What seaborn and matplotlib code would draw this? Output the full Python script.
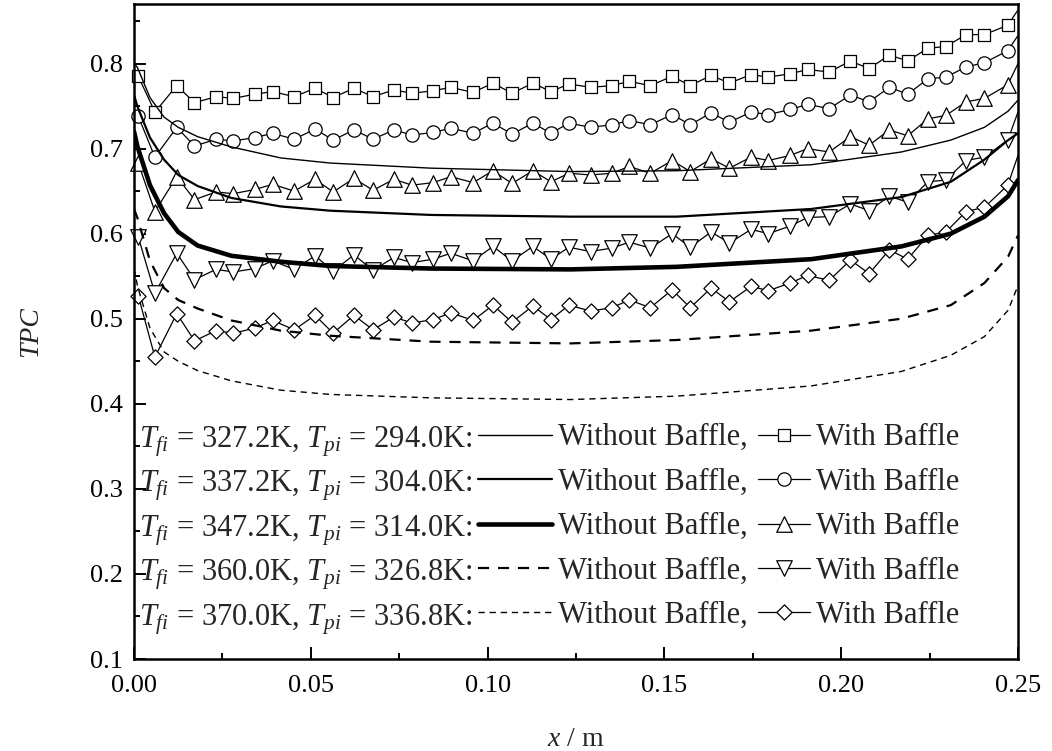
import matplotlib
matplotlib.use("Agg")
import matplotlib.pyplot as plt
import numpy as np
import pandas as pd
import seaborn as sns
from matplotlib.ticker import MultipleLocator, FormatStrFormatter

# ---------------- data ----------------
# marker positions along the channel (m), shared by all "with baffle" series
x_mark = [0.0012, 0.0059, 0.0121, 0.0171, 0.0232, 0.0281, 0.0342, 0.0392, 0.0453,
          0.0512, 0.0563, 0.0622, 0.0676, 0.0735, 0.0786, 0.0846, 0.0896, 0.0959,
          0.1015, 0.1069, 0.1128, 0.1179, 0.1230, 0.1291, 0.1351, 0.1401, 0.1460,
          0.1522, 0.1573, 0.1632, 0.1684, 0.1745, 0.1794, 0.1856, 0.1905, 0.1966,
          0.2026, 0.2079, 0.2136, 0.2188, 0.2245, 0.2296, 0.2353, 0.2405, 0.2471]
x_end = 0.25

with_327 = [0.785, 0.743, 0.774, 0.754, 0.761, 0.759, 0.764, 0.767, 0.761, 0.771,
            0.760, 0.771, 0.761, 0.769, 0.765, 0.768, 0.772, 0.766, 0.777, 0.765,
            0.777, 0.767, 0.776, 0.772, 0.774, 0.779, 0.774, 0.785, 0.774, 0.786,
            0.777, 0.787, 0.784, 0.788, 0.793, 0.790, 0.803, 0.794, 0.810, 0.803,
            0.818, 0.820, 0.834, 0.834, 0.845]
with_337 = [0.738, 0.690, 0.725, 0.703, 0.711, 0.709, 0.713, 0.718, 0.711, 0.723,
            0.710, 0.722, 0.711, 0.722, 0.716, 0.719, 0.724, 0.718, 0.730, 0.717,
            0.730, 0.718, 0.730, 0.725, 0.728, 0.733, 0.728, 0.740, 0.728, 0.742,
            0.731, 0.743, 0.740, 0.746, 0.752, 0.747, 0.763, 0.755, 0.772, 0.764,
            0.782, 0.784, 0.796, 0.801, 0.815]
with_347 = [0.683, 0.626, 0.667, 0.640, 0.649, 0.647, 0.652, 0.658, 0.650, 0.664,
            0.649, 0.665, 0.651, 0.664, 0.657, 0.660, 0.667, 0.660, 0.674, 0.659,
            0.674, 0.661, 0.671, 0.669, 0.671, 0.679, 0.671, 0.686, 0.673, 0.688,
            0.677, 0.690, 0.686, 0.692, 0.700, 0.696, 0.714, 0.704, 0.722, 0.715,
            0.735, 0.739, 0.755, 0.759, 0.775]
with_360 = [0.596, 0.530, 0.577, 0.546, 0.558, 0.555, 0.559, 0.568, 0.558, 0.574,
            0.556, 0.575, 0.557, 0.572, 0.566, 0.570, 0.577, 0.568, 0.585, 0.568,
            0.585, 0.570, 0.584, 0.579, 0.583, 0.590, 0.583, 0.600, 0.584, 0.602,
            0.589, 0.605, 0.600, 0.609, 0.619, 0.620, 0.635, 0.627, 0.644, 0.637,
            0.661, 0.663, 0.686, 0.690, 0.710]
with_370 = [0.527, 0.455, 0.506, 0.474, 0.486, 0.483, 0.489, 0.498, 0.487, 0.504,
            0.483, 0.504, 0.487, 0.502, 0.495, 0.499, 0.507, 0.498, 0.516, 0.496,
            0.515, 0.499, 0.516, 0.509, 0.513, 0.522, 0.513, 0.534, 0.513, 0.536,
            0.520, 0.538, 0.533, 0.542, 0.551, 0.545, 0.569, 0.553, 0.581, 0.570,
            0.598, 0.602, 0.626, 0.631, 0.657]
with_end = [0.863, 0.833, 0.800, 0.743, 0.692]   # line values at x = 0.25

# smooth "without baffle" profiles
x_curve = [0.0, 0.001, 0.0045, 0.0085, 0.0125, 0.018, 0.0275, 0.0415, 0.0555,
           0.084, 0.1235, 0.1535, 0.1915, 0.217, 0.231, 0.2405, 0.2472, 0.25]
without_327 = [0.801, 0.795, 0.760, 0.737, 0.725, 0.714, 0.702, 0.689, 0.683,
               0.677, 0.673, 0.674, 0.681, 0.696, 0.710, 0.725, 0.744, 0.757]
without_337 = [0.763, 0.749, 0.713, 0.687, 0.669, 0.656, 0.642, 0.632, 0.627,
               0.622, 0.620, 0.620, 0.629, 0.643, 0.661, 0.687, 0.710, 0.718]
without_347 = [0.720, 0.702, 0.657, 0.624, 0.602, 0.586, 0.574, 0.567, 0.562,
               0.559, 0.558, 0.561, 0.570, 0.585, 0.600, 0.620, 0.644, 0.663]
without_360 = [0.629, 0.618, 0.568, 0.536, 0.522, 0.512, 0.498, 0.486, 0.480,
               0.473, 0.471, 0.475, 0.486, 0.500, 0.516, 0.542, 0.573, 0.598]
without_370 = [0.559, 0.538, 0.489, 0.461, 0.450, 0.439, 0.427, 0.416, 0.411,
               0.407, 0.405, 0.409, 0.421, 0.438, 0.457, 0.479, 0.510, 0.539]

temp_labels = [r"$T_{fi}$ = 327.2K, $T_{pi}$ = 294.0K:",
               r"$T_{fi}$ = 337.2K, $T_{pi}$ = 304.0K:",
               r"$T_{fi}$ = 347.2K, $T_{pi}$ = 314.0K:",
               r"$T_{fi}$ = 360.0K, $T_{pi}$ = 326.8K:",
               r"$T_{fi}$ = 370.0K, $T_{pi}$ = 336.8K:"]
x_ticks = [0.00, 0.05, 0.10, 0.15, 0.20, 0.25]
y_ticks = [0.1, 0.2, 0.3, 0.4, 0.5, 0.6, 0.7, 0.8]

# ---------------- styling ----------------
sns.set_style("ticks")
plt.rcParams["font.family"] = ["Liberation Serif", "DejaVu Serif"]
plt.rcParams["mathtext.fontset"] = "custom"
plt.rcParams["mathtext.rm"] = "Liberation Serif"
plt.rcParams["mathtext.it"] = "Liberation Serif:italic"
plt.rcParams["axes.edgecolor"] = "black"
plt.rcParams["xtick.color"] = "black"
plt.rcParams["ytick.color"] = "black"

fig = plt.figure(figsize=(10.52, 7.51), dpi=100)
ax = fig.add_axes([0.1274, 0.1225, 0.8403, 0.8722])

with_series = [with_327, with_337, with_347, with_360, with_370]
without_series = [without_327, without_337, without_347, without_360, without_370]
markers = ["s", "o", "^", "v", "D"]
msizes = [80, 92, 125, 125, 60]
wo_styles = [dict(lw=1.0, ls="-"),
             dict(lw=1.6, ls="-"),
             dict(lw=3.3, ls="-"),
             dict(lw=1.6, ls=(0, (5, 4))),
             dict(lw=1.0, ls=(0, (4.5, 3.5)))]

with_handles = []
for vals, end, mk, ms in zip(with_series, with_end, markers, msizes):
    df = pd.DataFrame({"x": x_mark + [x_end], "y": vals + [end]})
    sns.lineplot(data=df, x="x", y="y", ax=ax, color="black", lw=0.9,
                 sort=False, estimator=None, zorder=2)
    line = ax.lines[-1]
    sns.scatterplot(x=x_mark, y=vals, ax=ax, marker=mk, s=ms, color="white",
                    edgecolor="black", linewidth=0.9, zorder=2.5, clip_on=False)
    sc = ax.collections[-1]
    with_handles.append((line, sc))

without_handles = []
for vals, st in zip(without_series, wo_styles):
    df = pd.DataFrame({"x": x_curve, "y": vals})
    sns.lineplot(data=df, x="x", y="y", ax=ax, color="black", lw=st["lw"],
                 linestyle=st["ls"], sort=False, estimator=None, zorder=3)
    without_handles.append(ax.lines[-1])

ax.set_xlim(0, 0.25)
ax.set_ylim(0.1, 0.87)
ax.set_xticks(x_ticks)
ax.set_yticks(y_ticks)
ax.xaxis.set_minor_locator(MultipleLocator(0.025))
ax.yaxis.set_minor_locator(MultipleLocator(0.05))
ax.xaxis.set_major_formatter(FormatStrFormatter("%.2f"))
ax.yaxis.set_major_formatter(FormatStrFormatter("%.1f"))
ax.tick_params(which="major", direction="in", length=8.6, width=1.4,
               labelsize=19, pad=8, top=False, right=False)
ax.tick_params(axis="x", which="major", pad=11.5)
ax.tick_params(which="minor", direction="in", length=4.3, width=1.4,
               top=False, right=False)
for sp in ax.spines.values():
    sp.set_linewidth(1.8)
    sp.set_visible(True)
    sp.set_zorder(4)

ax.set_xlabel(r"$x$ / m", fontsize=20)
ax.set_ylabel("TPC", fontsize=20, fontstyle="italic")
ax.xaxis.set_label_coords(0.5, -0.104)
ax.yaxis.set_label_coords(-0.103, 0.5)

# ---------------- legend ----------------
leg_kw = dict(loc="lower left", frameon=False, fontsize=22, labelspacing=0.507,
              handletextpad=0.2, borderpad=0, borderaxespad=0)
legA = ax.legend(without_handles, ["Without Baffle,"] * 5,
                 bbox_to_anchor=(0.389, 0.044), handlelength=2.42, **leg_kw)
ax.add_artist(legA)
legB = ax.legend(with_handles, ["With Baffle"] * 5,
                 bbox_to_anchor=(0.706, 0.044), handlelength=1.7,
                 scatteryoffsets=[0.5], **leg_kw)

fig.canvas.draw()
renderer = fig.canvas.get_renderer()
inv = ax.transAxes.inverted()
for txt, lab in zip(legA.get_texts(), temp_labels):
    bb = txt.get_window_extent(renderer)
    _, _, d = renderer.get_text_width_height_descent(
        txt.get_text(), txt.get_fontproperties(), ismath=False)
    base = inv.transform((bb.x0, bb.y0 + d))[1]
    ax.text(0.383, base, lab, transform=ax.transAxes, fontsize=22,
            ha="right", va="baseline")

fig.savefig("out.png", dpi=100)
